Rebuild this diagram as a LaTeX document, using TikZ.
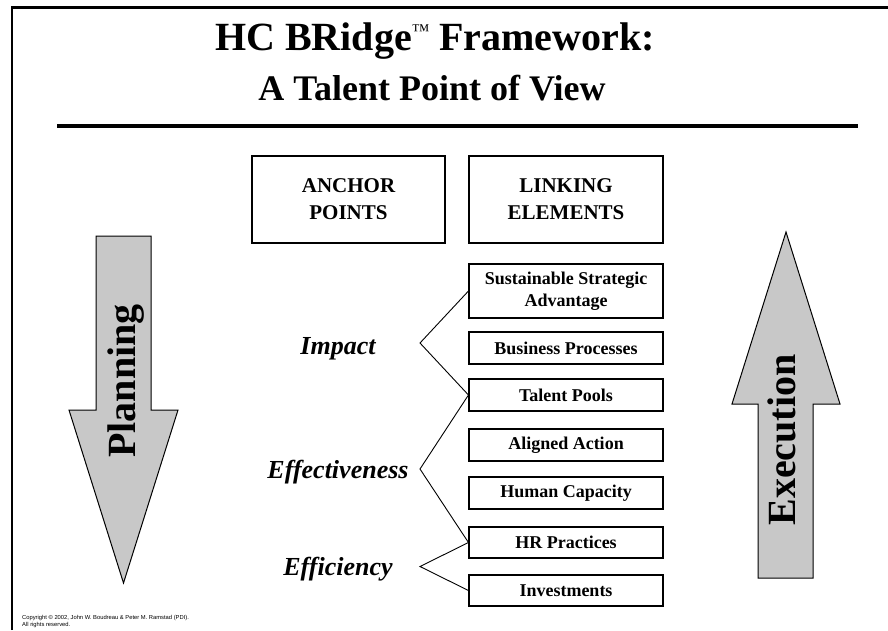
\documentclass[tikz,border=0pt]{standalone}
\usepackage{fontspec}
\setmainfont{Liberation Serif}
\newfontfamily\copyfont{Liberation Sans}
\definecolor{arrowgray}{RGB}{200,200,200}
\begin{document}
\begin{tikzpicture}[x=1pt,y=-1pt,
  lbox/.style={draw=black, line width=1.1pt, inner sep=0pt, align=center,
    minimum width=194pt, font=\fontsize{18}{22}\selectfont\bfseries},
  topbox/.style={draw=black, line width=1.1pt, inner sep=0pt, align=center,
    minimum height=87pt, font=\fontsize{21}{27}\selectfont\bfseries},
  lab/.style={anchor=base, inner sep=0pt, font=\fontsize{26}{30}\selectfont\bfseries\itshape},
  bracket/.style={draw=black, line width=0.9pt},
  bigarrow/.style={draw=black, line width=1pt, fill=arrowgray, line join=miter},
  arrowtext/.style={rotate=90, inner sep=0pt, font=\fontsize{40}{40}\selectfont\bfseries},
  titletext/.style={anchor=base, inner sep=0pt, font=\bfseries},
  copytext/.style={anchor=base west, inner sep=0pt, font=\copyfont\fontsize{5.8}{7}\selectfont}
]
\useasboundingbox (0,0) rectangle (888,630);
% frame
\draw[line width=2.5pt] (12,630) -- (12,7.5) -- (888,7.5);
% title
\node[titletext, font=\fontsize{40}{42}\selectfont\bfseries] (t1) at (435,50)
  {HC BRidge\raisebox{14pt}{\fontsize{18}{18}\selectfont\mdseries ™} Framework:};
\node[titletext, font=\fontsize{36}{40}\selectfont\bfseries] (t2) at (432,100) {A Talent Point of View};
\draw[line width=4.5pt] (57,126) -- (858,126);
% top boxes
\node[topbox, minimum width=193pt] (anchor) at (348.5,199.5) {ANCHOR\\POINTS};
\node[topbox, minimum width=194pt] (linking) at (566,199.5) {LINKING\\ELEMENTS};
% linking element boxes
\node[lbox, minimum height=54pt] (ssa) at (566,291) {Sustainable Strategic\\Advantage};
\node[lbox, minimum height=32pt] (bp) at (566,348) {Business Processes};
\node[lbox, minimum height=32pt] (tp) at (566,395) {Talent Pools};
\node[lbox, minimum height=32pt] (aa) at (566,445) {Aligned Action};
\node[lbox, minimum height=32pt] (hc) at (566,493) {Human Capacity};
\node[lbox, minimum height=31pt] (hrp) at (566,542.5) {HR Practices};
\node[lbox, minimum height=31pt] (inv) at (566,590.5) {Investments};
% anchor labels
\node[lab] (impact) at (338,354) {Impact};
\node[lab] (effect) at (338,478) {Effectiveness};
\node[lab] (effic) at (338,575) {Efficiency};
% brackets
\coordinate (apexA) at (420,343);
\coordinate (apexB) at (420,469);
\coordinate (apexC) at (420,566.5);
\draw[bracket] (ssa.west) -- (apexA) -- (tp.west);
\draw[bracket] (tp.west) -- (apexB) -- (hrp.west);
\draw[bracket] (hrp.west) -- (apexC) -- (inv.west);
% big arrows
\draw[bigarrow] (96,236) -- (151,236) -- (151,410) -- (178,410) -- (123.5,583)
  -- (69,410) -- (96,410) -- cycle;
\node[arrowtext] (planning) at (126,381) {Planning};
\draw[bigarrow] (758,578) -- (813,578) -- (813,404) -- (840,404) -- (786,232)
  -- (732,404) -- (758,404) -- cycle;
\node[arrowtext] (execution) at (782,440) {Execution};
% copyright
\node[copytext] (copy1) at (22,619) {Copyright © 2002, John W. Boudreau \& Peter M. Ramstad (PDI).};
\node[copytext] (copy2) at (22,626) {All rights reserved.};
\end{tikzpicture}
\end{document}
